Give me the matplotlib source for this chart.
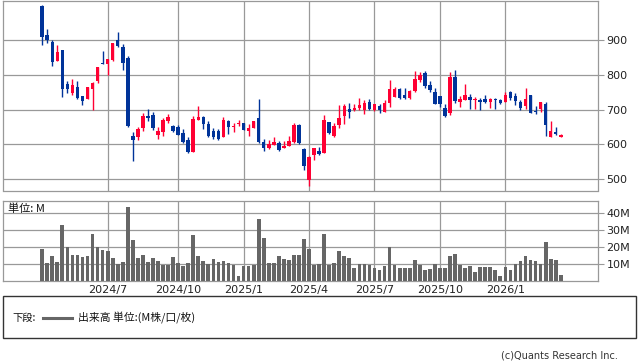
import numpy as np
import pandas as pd
import matplotlib
matplotlib.use("Agg")
import matplotlib.pyplot as plt
from matplotlib.patches import Rectangle

# weekly OHLC, first week 2024-04-01
opens  = [998, 914, 894, 840, 871, 773, 748, 765, 738, 731, 758, 782, 833, 830, 842, 899, 880, 848,
          624, 622, 647, 682, 683, 628, 636, 667, 652, 650, 632, 612, 578, 671, 677, 658, 638, 638,
          622, 667, 650, 659, 661, 639, 647, 676, 606, 589, 599, 603, 590, 595, 607, 655, 586, 497,
          569, 581, 575, 664, 624, 656, 682, 701, 698, 704, 698, 723, 698, 710, 694, 718, 737, 759,
          741, 732, 753, 785, 805, 770, 750, 739, 704, 691, 793, 721, 728, 735, 728, 728, 730, 721,
          731, 727, 722, 751, 739, 722, 711, 742, 697, 701, 716, 622, 634, 622]
highs  = [1000, 932, 900, 886, 871, 783, 788, 783, 740, 764, 778, 823, 868, 846, 892, 923, 889, 854,
          634, 651, 691, 701, 693, 649, 675, 687, 654, 655, 644, 620, 682, 710, 680, 666, 646, 645,
          678, 669, 660, 670, 662, 658, 668, 730, 615, 612, 620, 609, 609, 624, 662, 657, 588, 565,
          590, 592, 685, 665, 660, 713, 716, 718, 715, 732, 727, 731, 717, 716, 726, 785, 764, 762,
          762, 755, 812, 808, 812, 782, 762, 739, 715, 809, 814, 739, 773, 744, 737, 732, 742, 734,
          733, 729, 749, 754, 748, 727, 762, 742, 710, 722, 722, 667, 649, 630]
lows   = [887, 892, 826, 840, 737, 748, 743, 730, 714, 731, 698, 775, 830, 799, 840, 880, 814, 650,
          553, 612, 639, 668, 641, 616, 625, 661, 635, 626, 605, 575, 577, 670, 644, 620, 615, 612,
          620, 630, 634, 652, 640, 625, 646, 604, 580, 586, 598, 582, 589, 594, 605, 601, 526, 481,
          556, 570, 574, 630, 621, 647, 658, 676, 697, 700, 687, 699, 697, 691, 692, 707, 736, 730,
          730, 730, 750, 779, 762, 750, 716, 706, 677, 685, 720, 708, 727, 702, 702, 699, 719, 703,
          702, 717, 721, 727, 713, 699, 701, 690, 687, 694, 624, 621, 627, 620]
closes = [910, 900, 838, 865, 760, 760, 770, 734, 725, 764, 776, 822, 830, 845, 890, 883, 833, 652,
          612, 644, 681, 676, 647, 638, 670, 678, 638, 628, 606, 578, 673, 677, 658, 624, 621, 616,
          670, 651, 652, 662, 641, 647, 667, 607, 590, 600, 606, 584, 596, 609, 654, 603, 536, 564,
          589, 572, 670, 632, 653, 676, 709, 694, 704, 712, 719, 701, 715, 698, 718, 759, 759, 733,
          733, 753, 788, 798, 769, 756, 717, 717, 682, 793, 725, 730, 742, 728, 730, 721, 721, 730,
          726, 720, 742, 734, 725, 705, 730, 691, 694, 722, 655, 638, 629, 628]
# volume, millions
volumes = [18.9, 10.5, 14.8, 11.2, 33.0, 20.0, 15.4, 15.4, 13.7, 14.8, 27.7, 19.6, 18.3, 17.7, 13.1,
           9.7, 10.7, 43.7, 24.2, 13.6, 15.4, 11.2, 13.6, 11.8, 8.9, 9.4, 14.2, 10.6, 8.3, 10.6, 27.2,
           14.8, 11.8, 10.0, 13.0, 11.2, 11.8, 10.6, 9.4, 2.4, 8.3, 8.3, 8.9, 36.6, 25.4, 10.6, 10.6,
           14.8, 13.0, 12.4, 15.4, 15.4, 24.8, 18.9, 9.0, 10.0, 27.7, 9.0, 10.6, 17.7, 14.8, 13.6,
           7.2, 9.6, 9.6, 8.9, 7.2, 6.5, 8.3, 19.7, 9.4, 7.7, 7.2, 7.2, 12.4, 9.3, 6.5, 7.1, 10.0,
           7.2, 7.7, 14.8, 15.9, 9.4, 7.2, 8.4, 5.3, 7.8, 7.8, 7.9, 6.5, 2.5, 7.8, 6.5, 10.0, 11.8,
           14.8, 12.3, 11.8, 9.6, 23.0, 13.0, 12.4, 3.5]

month_labels = ["2024/7", "2024/10", "2025/1", "2025/4", "2025/7", "2025/10", "2026/1"]
price_ticks = [500, 600, 700, 800, 900]
vol_ticks = [10, 20, 30, 40]

RED, BLUE, GRID = "#ff0033", "#003399", "#999999"

weeks = pd.date_range("2024-04-01", periods=len(opens), freq="W-MON")
x = np.arange(len(opens))
o, h, l, c = map(np.array, (opens, highs, lows, closes))
up = c >= o
colors = np.where(up, RED, BLUE)

# first week of each labelled month
month_pos = []
for lab in month_labels:
    yy, mm = map(int, lab.split("/"))
    month_pos.append(int(np.argmax((weeks.year == yy) & (weeks.month == mm))))

W, H = 638, 362
fig = plt.figure(figsize=(W / 100, H / 100), dpi=100)
fig.patch.set_facecolor("white")

def px_axes(left, top, right, bottom):
    return fig.add_axes([left / W, 1 - bottom / H, (right - left) / W, (bottom - top) / H])

ax1 = px_axes(3.3, 0.5, 598, 190.5)
ax2 = px_axes(3.3, 201, 598, 280.5)
xlim = (-7.73, 110.4)

for ax in (ax1, ax2):
    ax.set_xlim(*xlim)
    ax.set_facecolor("white")
    for s in ax.spines.values():
        s.set_color(GRID)
        s.set_linewidth(0.9)
    ax.yaxis.tick_right()
    ax.tick_params(axis="y", length=4, width=0.8, color=GRID, pad=2,
                   labelsize=8, labelcolor="#222222")
    ax.set_xticks(month_pos)
    ax.grid(True, color=GRID, linewidth=0.9)
    ax.set_axisbelow(True)

# candles
ax1.vlines(x, l, h, colors=colors, linewidth=1.0, zorder=2)
body = np.maximum(np.abs(c - o), 2)
ax1.bar(x, body, bottom=np.minimum(o, c), width=0.7, color=colors, linewidth=0, zorder=3)
ax1.set_ylim(466.9, 1013.7)
ax1.set_yticks(price_ticks)
ax1.tick_params(axis="x", length=0, labelbottom=False)

# volume
ax2.bar(x, volumes, width=0.74, color="#666666", linewidth=0, zorder=3)
ax2.set_ylim(0, 47.1)
ax2.set_yticks(vol_ticks)
ax2.set_yticklabels([f"{v}M" for v in vol_ticks])
ax2.set_xticklabels(month_labels)
ax2.tick_params(axis="x", length=0, pad=3, labelsize=8, labelcolor="#222222")

cjk = ["Noto Sans CJK JP", "DejaVu Sans"]
fig.text(8 / W, 1 - 209 / H, "単位: M", family=cjk, fontsize=8, va="center", ha="left",
         color="#111111")

# legend box
fig.patches.append(Rectangle((3 / W, 1 - 338 / H), 633 / W, 42 / H, transform=fig.transFigure,
                             fill=False, edgecolor="#333333", linewidth=1.0))
fig.text(12 / W, 1 - 318 / H, "下段:", family=cjk, fontsize=7.4, va="center", ha="left",
         color="#111111")
fig.add_artist(plt.Line2D([43 / W, 72 / W], [1 - 318 / H, 1 - 318 / H],
                          transform=fig.transFigure, color="#666666", linewidth=2.2))
fig.text(78 / W, 1 - 318 / H, "出来高 単位:(M株/口/枚)", family=cjk, fontsize=7.8, va="center",
         ha="left", color="#111111")
fig.text(618 / W, 1 - 356 / H, "(c)Quants Research Inc.", fontsize=7, va="center", ha="right",
         color="#333333")

fig.savefig("out.png", dpi=100, facecolor="white")
